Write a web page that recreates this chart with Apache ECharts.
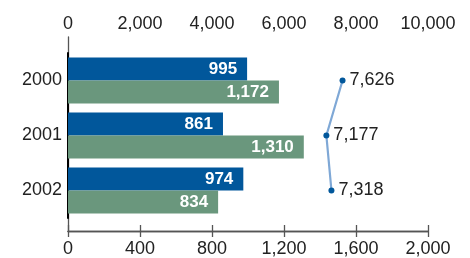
<!DOCTYPE html>
<html>
<head>
    <meta charset="utf-8">
    <title>ECharts</title>
    <script type="text/javascript" src="https://cdn.jsdelivr.net/npm/echarts@6/dist/echarts.min.js"></script>
    <style>
        html, body { margin: 0; padding: 0; background: #fff; }
    </style>
</head>
<body>
<div id="main" style="width: 470px;height:258px;"></div>
<script type="text/javascript">
    // data
    var years = ['2000', '2001', '2002'];
    var blueValues = [995, 861, 974];       // bottom axis (0-2,000)
    var greenValues = [1172, 1310, 834];    // bottom axis (0-2,000)
    var lineValues = [7626, 7177, 7318];    // top axis (0-10,000)
    var topTicks = [0, 2000, 4000, 6000, 8000, 10000];
    var bottomTicks = [0, 400, 800, 1200, 1600, 2000];

    var font = 'Liberation Sans, Arial, sans-serif';
    var fmt = function (v) { return v.toLocaleString('en-US'); };

    var myChart = echarts.init(document.getElementById('main'));
    var option = {
        animation: false,
        grid: [
            // outer frame: holds the two visible value axes
            { left: 68, right: 42, top: 37, bottom: 25 },
            // inner band: holds the categories and the marks
            { left: 68, right: 42, top: 53, bottom: 40 }
        ],
        xAxis: [
            {
                type: 'value', gridIndex: 0, position: 'top',
                min: topTicks[0], max: topTicks[topTicks.length - 1], interval: 2000,
                axisLine: { show: true, lineStyle: { color: '#555', width: 1.3 } },
                axisTick: { show: true, inside: true, length: 6, lineStyle: { color: '#555', width: 1.3 } },
                axisLabel: { fontSize: 18, color: '#222', fontFamily: font, margin: 4, formatter: fmt },
                splitLine: { show: false }
            },
            {
                type: 'value', gridIndex: 0, position: 'bottom',
                min: bottomTicks[0], max: bottomTicks[bottomTicks.length - 1], interval: 400,
                axisLine: { show: true, lineStyle: { color: '#555', width: 1.3 } },
                axisTick: { show: true, inside: true, length: 6, lineStyle: { color: '#555', width: 1.3 } },
                axisLabel: { fontSize: 18, color: '#222', fontFamily: font, margin: 9, formatter: fmt },
                splitLine: { show: false }
            },
            { type: 'value', gridIndex: 1, min: 0, max: 2000, show: false },
            { type: 'value', gridIndex: 1, min: 0, max: 10000, show: false }
        ],
        yAxis: [
            {
                type: 'value', gridIndex: 0, min: 0, max: 1,
                axisLine: { show: true, lineStyle: { color: '#555', width: 1.3 } },
                axisTick: { show: false }, axisLabel: { show: false }, splitLine: { show: false }
            },
            {
                type: 'category', gridIndex: 1, inverse: true, data: years,
                axisLine: { show: true, lineStyle: { color: '#000', width: 2 } },
                axisTick: { show: false },
                axisLabel: { fontSize: 18, color: '#222', fontFamily: font, margin: 6 }
            }
        ],
        series: [
            {
                type: 'bar', xAxisIndex: 2, yAxisIndex: 1,
                data: blueValues, barGap: '0%', barCategoryGap: '16%',
                itemStyle: { color: '#01579b' },
                label: { show: true, position: 'insideRight', color: '#fff', fontWeight: 'bold',
                         fontSize: 17, fontFamily: font, distance: 10, formatter: function (p) { return fmt(p.value); } }
            },
            {
                type: 'bar', xAxisIndex: 2, yAxisIndex: 1,
                data: greenValues, barGap: '0%', barCategoryGap: '16%',
                itemStyle: { color: '#6a977d' },
                label: { show: true, position: 'insideRight', color: '#fff', fontWeight: 'bold',
                         fontSize: 17, fontFamily: font, distance: 10, formatter: function (p) { return fmt(p.value); } }
            },
            {
                type: 'line', xAxisIndex: 3, yAxisIndex: 1,
                data: lineValues, symbol: 'circle', symbolSize: 6,
                itemStyle: { color: '#01579b' },
                lineStyle: { color: '#7fa8d6', width: 2.2 },
                label: { show: true, position: 'right', color: '#222', fontSize: 18,
                         fontFamily: font, distance: 4, formatter: function (p) { return fmt(p.value); } }
            }
        ]
    };
    myChart.setOption(option);
</script>
</body>
</html>
